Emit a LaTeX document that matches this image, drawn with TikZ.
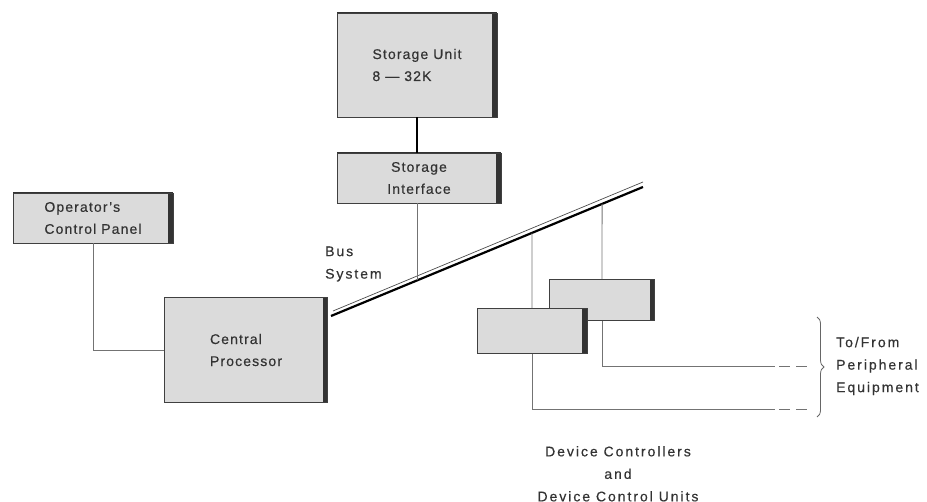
\documentclass[tikz,border=0pt]{standalone}
\usepackage{fontspec}
\setmainfont{Liberation Sans}
\newfontfamily\boxfont{Liberation Sans}[LetterSpace=8, FakeBold=0.4]
\newfontfamily\lblfont{Liberation Sans}[LetterSpace=14, FakeBold=0.4]
\usetikzlibrary{positioning,calc,decorations.pathreplacing}

\begin{document}
\begin{tikzpicture}[x=1pt,y=-1pt]
	\tikzstyle{hw_box}=[draw=black!75, line width=0.8pt, rectangle, fill=black!14, text=black!80, font=\boxfont\fontsize{14}{22}\selectfont, inner sep=0pt, path picture={\fill[black!80] ($(path picture bounding box.north east)+(-5pt,0pt)$) rectangle (path picture bounding box.south east); \draw[black!80, line width=2pt] (path picture bounding box.north west) -- (path picture bounding box.north east);}];
	\tikzstyle{hw_text}=[font=\lblfont\fontsize{14}{22.5}\selectfont, text=black!80, inner sep=0pt];
	\tikzstyle{thin_link}=[black!55, line width=0.8pt];
	\tikzstyle{open_end}=[thin_link, dash pattern=on 11pt off 6pt, dash phase=13pt];

	\useasboundingbox (0,0) rectangle (927,502);

	\node[hw_box, minimum width=160pt, minimum height=104pt, align=left] (store) at (417,65) {Storage Unit\\8 — 32K};
	\node[hw_box, minimum width=164pt, minimum height=50pt, align=center] (iface) at (419,178) {Storage\\Interface};
	\node[hw_box, minimum width=160pt, minimum height=50pt, align=left] (panel) at (93,218) {Operator’s\\Control Panel};
	\node[hw_box, minimum width=163pt, minimum height=105pt, align=left] (cpu) at (246,350) {Central\\Processor};
	\node[hw_box, minimum width=105pt, minimum height=41pt] (dev_b) at (602,300) {};
	\node[hw_box, minimum width=110pt, minimum height=45pt] (dev_a) at (532,331) {};

	\coordinate (bus_l) at (331,316);
	\coordinate (bus_r) at (643,187);
	\draw[line width=2.2pt] (bus_l) -- (bus_r);
	\draw[line width=0.7pt, black!70] ($(bus_l)+(2pt,5pt)$) -- ($(bus_r)+(0pt,5pt)$);

	\coordinate (tap_s) at ($(bus_l)!0.2756!(bus_r)$);
	\coordinate (tap_a) at ($(bus_l)!0.644!(bus_r)$);
	\coordinate (tap_b) at ($(bus_l)!0.869!(bus_r)$);

	\draw[line width=2pt] (store.south) -- (iface.north -| store.south);
	\draw[thin_link] (iface.south -| tap_s) -- (tap_s);
	\draw[thin_link] (tap_a) -- (dev_a.north);
	\draw[thin_link] (tap_b) -- (dev_b.north);
	\draw[thin_link] (panel.south) |- (cpu.west);

	\coordinate (out_b) at (775,366);
	\coordinate (end_b) at (808,366);
	\coordinate (out_a) at (775,409);
	\coordinate (end_a) at (808,409);
	\draw[thin_link] (dev_b.south) |- (out_b);
	\draw[thin_link] (dev_a.south) |- (out_a);
	\draw[open_end] (out_b) -- (end_b);
	\draw[open_end] (out_a) -- (end_a);

	\draw[black!60, line width=0.8pt, decorate, decoration={brace, amplitude=7pt}] (817,317) -- (817,417);

	\node[hw_text, anchor=west, align=left] (periph) at (836,366) {To/From\\Peripheral\\Equipment};
	\node[hw_text, anchor=west, align=left] (bus_lbl) at (325,264) {Bus\\System};
	\node[hw_text, anchor=north, align=center] (dev_lbl) at (618,446) {Device Controllers\\and\\Device Control Units};
\end{tikzpicture}
\end{document}
